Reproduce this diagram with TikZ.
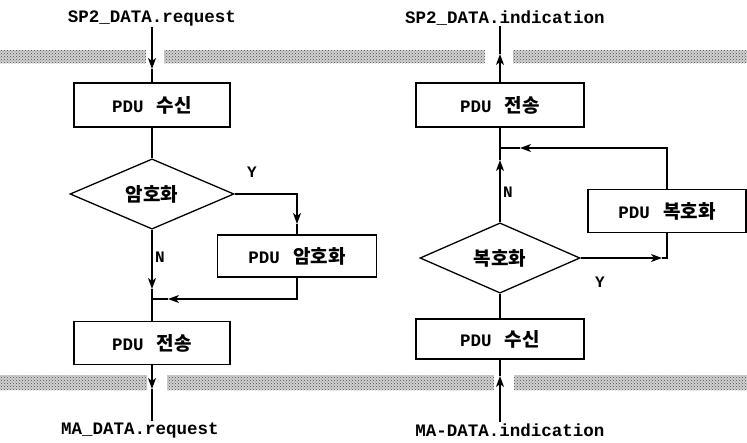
\documentclass[tikz,border=0pt]{standalone}
\usepackage{fontspec}
\setmonofont{Liberation Mono}
\newfontfamily\krfont{Noto Sans CJK KR}
\newcommand{\hangul}{\krfont\bfseries\fontsize{19}{22}\selectfont}
\usetikzlibrary{shapes,arrows.meta,positioning,patterns}

\begin{document}
\begin{tikzpicture}[x=1pt, y=1pt, >={Stealth[length=11pt,width=8pt,inset=3pt]}]
  \tikzstyle{process}=[rectangle, draw, line width=1.2pt, minimum height=44pt, inner sep=0pt, font=\ttfamily\bfseries\fontsize{17.5}{20}\selectfont]
  \tikzstyle{decision}=[diamond, draw, line width=1.3pt, minimum width=164pt, minimum height=68pt, inner sep=0pt, font=\hangul]
  \tikzstyle{prim}=[inner sep=1pt, font=\ttfamily\bfseries\fontsize{17.5}{20}\selectfont]
  \tikzstyle{yn}=[inner sep=1pt, font=\ttfamily\bfseries\fontsize{16}{18}\selectfont]
  \tikzstyle{band}=[fill=black!18, postaction={pattern=crosshatch dots, pattern color=black!70}]
  \tikzstyle{flow}=[line width=1.1pt]

  \useasboundingbox (0,0) rectangle (747,-442);

  % Layer boundaries
  \fill[band] (0,-50) rectangle (146,-63);
  \fill[band] (164,-50) rectangle (485,-63);
  \fill[band] (513,-50) rectangle (747,-63);
  \fill[band] (0,-375) rectangle (147,-390);
  \fill[band] (167,-375) rectangle (494,-390);
  \fill[band] (514,-375) rectangle (747,-390);

  % Service primitives
  \node[prim] (sreq) at (152,-18) {SP2\_DATA.request};
  \node[prim] (mreq) at (140,-430) {MA\_DATA.request};
  \node[prim] (sind) at (505,-18) {SP2\_DATA.indication};
  \node[prim] (mind) at (510,-430) {MA-DATA.indication};

  % Sending side
  \node[process, minimum width=156pt] (recv1) at (152,-105) {PDU\, {\hangul 수신}};
  \node[decision] (enc) at (152,-194) {암호화};
  \node[process, minimum width=159pt, minimum height=42pt] (encbox) at (297,-256) {PDU\, {\hangul 암호화}};
  \node[process, minimum width=156pt, minimum height=43pt] (send1) at (152,-343) {PDU\, {\hangul 전송}};
  \coordinate (mj) at (152,-299);

  % Receiving side
  \node[process, minimum width=168pt] (rsend) at (500,-105) {PDU\, {\hangul 전송}};
  \node[decision, minimum width=160pt] (dec) at (500,-258) {복호화};
  \node[process, minimum width=158pt, minimum height=43pt] (decbox) at (667,-211) {PDU\, {\hangul 복호화}};
  \node[process, minimum width=168pt, minimum height=40pt] (rrecv) at (500,-339) {PDU\, {\hangul 수신}};
  \coordinate (rj) at (500,-148);

  % Arrow points
  \coordinate (g1) at (152,-69);
  \coordinate (g2) at (152,-389);
  \coordinate (g3) at (500,-54);
  \coordinate (g4) at (500,-376);
  \coordinate (ya) at (297,-224);
  \coordinate (na) at (152,-289);
  \coordinate (ma) at (168,-299);
  \coordinate (yb) at (662,-258);
  \coordinate (nb) at (500,-160);
  \coordinate (mb) at (520,-148);

  % Connections (sending)
  \draw[flow, ->] (sreq.south -| g1) -- (g1);
  \draw[flow] (g1) -- (recv1.north);
  \draw[flow] (recv1.south) -- (enc.north);
  \draw[flow, ->] (enc.east) -| (ya);
  \draw[flow] (ya) -- (encbox.north);
  \draw[flow, ->] (enc.south) -- (na);
  \draw[flow] (na) -- (mj);
  \draw[flow, ->] (encbox.south) |- (ma);
  \draw[flow] (ma) -- (mj);
  \draw[flow] (mj) -- (send1.north);
  \draw[flow, ->] (send1.south) -- (g2);
  \draw[flow] (g2) -- (mreq.north -| g2);

  % Connections (receiving)
  \draw[flow, ->] (mind.north -| g4) -- (g4);
  \draw[flow] (g4) -- (rrecv.south);
  \draw[flow] (rrecv.north) -- (dec.south);
  \draw[flow, ->] (dec.east) -- (yb);
  \draw[flow] (yb) -| (decbox.south);
  \draw[flow, ->] (decbox.north) |- (mb);
  \draw[flow] (mb) -- (rj);
  \draw[flow, ->] (dec.north) -- (nb);
  \draw[flow] (nb) -- (rj);
  \draw[flow] (rj) -- (rsend.south);
  \draw[flow, ->] (rsend.north) -- (g3);
  \draw[flow] (g3) -- (sind.south -| g3);

  % Branch labels
  \node[yn] (ylbl1) at (252,-172) {Y};
  \node[yn, anchor=west] (nlbl1) at (154,-257) {N};
  \node[yn, anchor=west] (nlbl2) at (502,-192) {N};
  \node[yn] (ylbl2) at (600,-282) {Y};
\end{tikzpicture}
\end{document}
